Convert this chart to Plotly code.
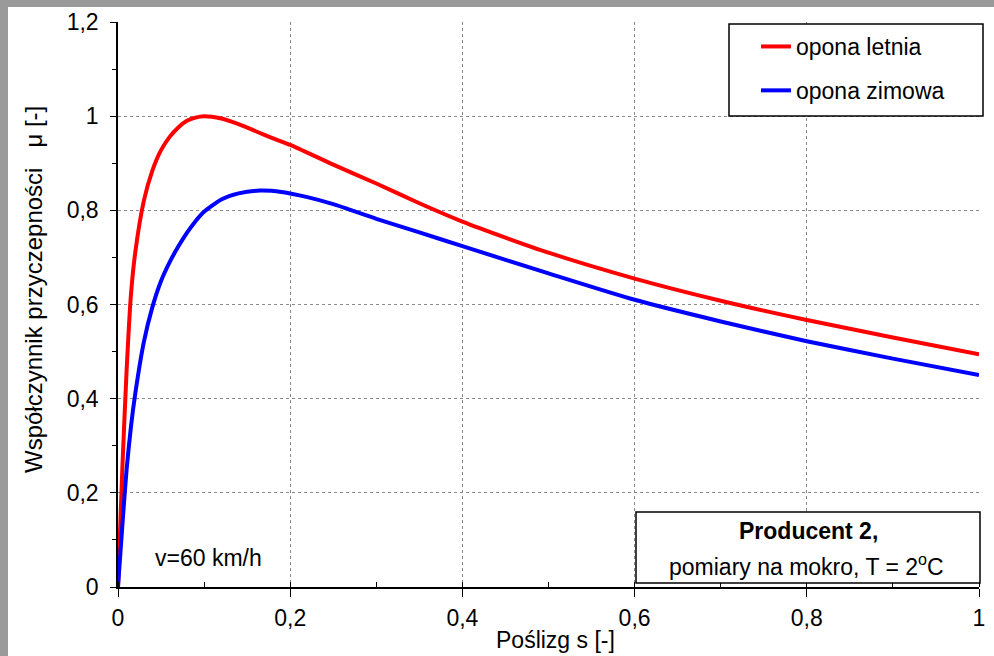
import plotly.graph_objects as go

# Slip values and friction coefficients for the two tyres
slip_summer = [0, 0.005, 0.01, 0.015, 0.02, 0.03, 0.04, 0.05, 0.06, 0.07, 0.08,
               0.09, 0.1, 0.12, 0.14, 0.16, 0.18, 0.2, 0.25, 0.3, 0.35, 0.4, 0.45,
               0.5, 0.6, 0.7, 0.8, 0.9, 1.0]
mu_summer = [0, 0.25, 0.46, 0.62, 0.71, 0.82, 0.885, 0.928, 0.956, 0.976, 0.99,
             0.997, 1.0, 0.995, 0.983, 0.968, 0.953, 0.939, 0.897, 0.857, 0.815, 0.776, 0.742,
             0.71, 0.655, 0.608, 0.567, 0.53, 0.494]

slip_winter = [0, 0.005, 0.01, 0.015, 0.02, 0.03, 0.04, 0.05, 0.06, 0.07, 0.08, 0.09,
               0.1, 0.12, 0.14, 0.165, 0.19, 0.22, 0.25, 0.3, 0.35, 0.4, 0.5, 0.6,
               0.7, 0.8, 0.9, 1.0]
mu_winter = [0, 0.13, 0.25, 0.34, 0.41, 0.52, 0.595, 0.65, 0.69, 0.723, 0.752, 0.777,
             0.797, 0.823, 0.836, 0.842, 0.839, 0.828, 0.813, 0.782, 0.753, 0.724, 0.666, 0.61,
             0.564, 0.522, 0.485, 0.45]

series_names = ["opona letnia", "opona zimowa"]
series_colors = ["#ff0000", "#0000ff"]

x_ticks = [0, 0.2, 0.4, 0.6, 0.8, 1.0]
y_ticks = [0, 0.2, 0.4, 0.6, 0.8, 1.0, 1.2]

W, H = 994, 656
ML, MR, MT, MB = 118, 15, 22, 69
PW, PH = W - ML - MR, H - MT - MB


def px(x):
    return (x - ML) / PW


def py(y):
    return (H - MB - y) / PH


FONT = "Liberation Sans, Arial, sans-serif"
FS = 23
TXT = dict(family=FONT, size=FS, color="black")

fig = go.Figure()
for i, (xs, ys) in enumerate([(slip_summer, mu_summer), (slip_winter, mu_winter)]):
    fig.add_trace(go.Scatter(
        x=xs, y=ys, mode="lines", name=series_names[i],
        line=dict(color=series_colors[i], width=4, shape="spline", smoothing=0.6),
        legendgroup=f"g{i}",
    ))

axis_common = dict(
    showline=True, linecolor="black", linewidth=1.5,
    showgrid=True, gridcolor="#8a8a8a", griddash="dot", gridwidth=1,
    zeroline=False, tickcolor="black", tickfont=TXT,
    mirror=False, automargin=False,
)

fig.update_xaxes(
    range=[0, 1], tickvals=x_ticks, ticks="outside", ticklen=8, ticklabelstandoff=2,
    minor=dict(dtick=0.1, ticks="inside", ticklen=5, tickcolor="black", showgrid=False),
    **axis_common,
)
fig.update_yaxes(
    range=[0, 1.2], tickvals=y_ticks, ticks="outside", ticklen=6, ticklabelstandoff=7,
    minor=dict(dtick=0.1, ticks="outside", ticklen=4, tickcolor="black", showgrid=False),
    **axis_common,
)

shapes = [
    # grey frame strips
    dict(type="rect", xref="paper", yref="paper", x0=px(0), x1=px(8), y0=py(H), y1=py(0),
         fillcolor="#9a9a9a", line=dict(width=0), layer="above"),
    dict(type="rect", xref="paper", yref="paper", x0=px(0), x1=px(W), y0=py(7), y1=py(0),
         fillcolor="#9a9a9a", line=dict(width=0), layer="above"),
    # legend box
    dict(type="rect", xref="paper", yref="paper", x0=px(729), x1=px(983), y0=py(116), y1=py(24),
         fillcolor="white", line=dict(color="black", width=1.5), layer="above"),
    # info box
    dict(type="rect", xref="paper", yref="paper", x0=px(636), x1=px(980), y0=py(583), y1=py(512),
         fillcolor="white", line=dict(color="black", width=1.5), layer="above"),
]


def label(text, x, y, xanchor="center", size=FS, **kw):
    return dict(text=text, xref="paper", yref="paper", x=px(x), y=py(y),
                xanchor=xanchor, yanchor="middle", showarrow=False,
                font=dict(family=FONT, size=size, color="black"), **kw)


annotations = [
    label("Współczynnik przyczepności   μ [-]", 33, 290, size=24, textangle=-90),
    label("Poślizg s [-]", 555, 640),
    label("v=60 km/h", 153, 558, xanchor="left"),
    label("<b>Producent 2,</b>", 808, 531),
    label("pomiary na mokro, T = 2<sup>o</sup>C", 806, 565),
]

fig.update_layout(
    width=W, height=H,
    margin=dict(l=ML, r=MR, t=MT, b=MB, autoexpand=False),
    paper_bgcolor="white", plot_bgcolor="white",
    separators=", ",
    shapes=shapes, annotations=annotations,
    showlegend=True,
    legend=dict(x=px(756), y=py(25), xanchor="left", yanchor="top",
                bgcolor="rgba(0,0,0,0)", borderwidth=0, tracegroupgap=11,
                font=TXT),
)

fig.write_html("out.html")
